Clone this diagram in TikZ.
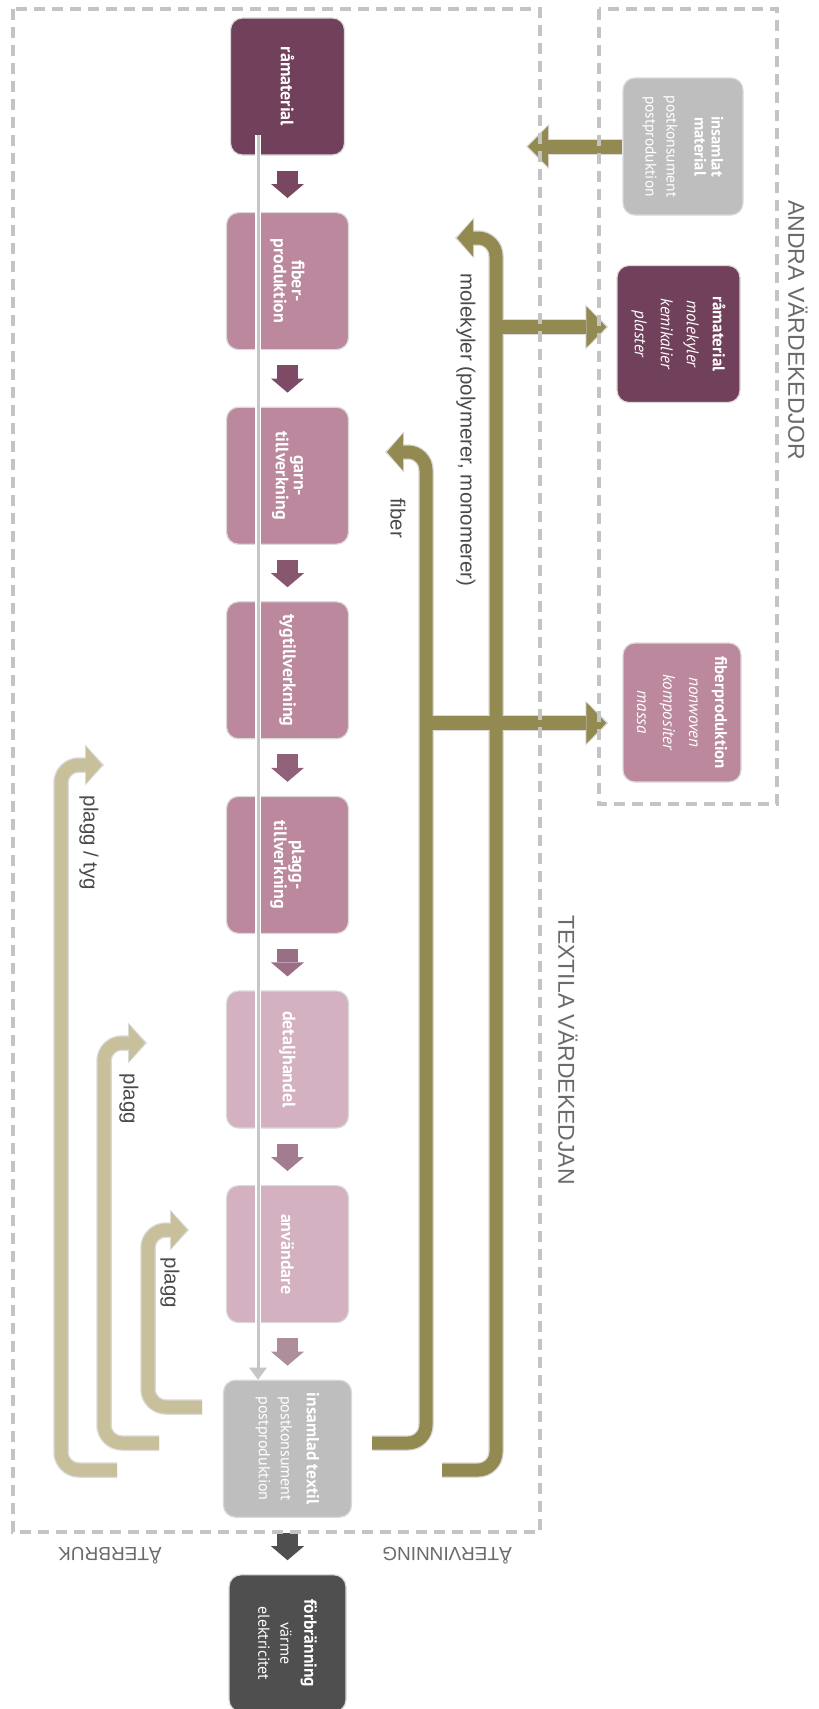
\documentclass[tikz,border=0pt]{standalone}
\usepackage{fontspec}
\setmainfont{PT Sans}
\newfontfamily\labelfont{Liberation Sans}
\usetikzlibrary{arrows.meta}

\definecolor{plumdark}{HTML}{71405A}
\definecolor{mauve}{HTML}{BB889D}
\definecolor{lightmauve}{HTML}{D3B1C0}
\definecolor{boxgrey}{HTML}{BEBEBE}
\definecolor{burngrey}{HTML}{4F4F4F}
\definecolor{boxedge}{HTML}{DADADA}
\definecolor{recycle}{HTML}{938A52}
\definecolor{reuse}{HTML}{C7C09B}
\definecolor{halo}{HTML}{DADADA}
\definecolor{framegrey}{HTML}{C4C4C4}
\definecolor{tracegrey}{HTML}{C6C6C6}
\definecolor{labelgrey}{HTML}{4A4A4A}
\definecolor{headgrey}{HTML}{6B6B6B}
\definecolor{arrowA}{HTML}{7A4762}
\definecolor{arrowB}{HTML}{7E4B66}
\definecolor{arrowC}{HTML}{87576F}
\definecolor{arrowD}{HTML}{906178}
\definecolor{arrowE}{HTML}{9A6E84}
\definecolor{arrowF}{HTML}{A47C8F}
\definecolor{arrowG}{HTML}{AE8E9A}
\definecolor{arrowH}{HTML}{4F4F4F}

% each line of a box label gets its own font switch
\newcommand\subline{\mdseries\fontsize{16}{18}\selectfont}
\newcommand\sidesub{\mdseries\fontsize{15.5}{17}\selectfont}
\newcommand\sideit{\mdseries\itshape\fontsize{17}{26}\selectfont}

\tikzset{
  stage/.style={rotate=-90, draw=boxedge, line width=1.2pt, rounded corners=12pt,
    text=white, align=center, inner sep=0pt, minimum width=137pt,
    minimum height=122pt, font=\fontsize{18}{18}\selectfont\bfseries},
  sidestage/.style={stage, font=\fontsize{17}{26}\selectfont\bfseries},
  flow/.style={draw=#1, line width=21pt, shorten <=15pt, shorten >=14pt,
    -{Triangle[length=14pt,width=33pt,line width=0pt]}},
  traceglow/.style={draw=white, line width=6pt, shorten >=10pt},
  traceline/.style={draw=tracegrey, line width=3pt,
    -{Triangle[length=12pt,width=18pt,line width=0pt]}},
  loophalo/.style={draw=halo, line width=15.5pt, rounded corners=18pt, shorten >=-2pt,
    -{Triangle[length=19pt,width=41pt,line width=0pt]}},
  loopfill/.style={draw=#1, line width=13pt, rounded corners=18pt,
    -{Triangle[length=16pt,width=37pt,line width=0pt]}},
  branchhalo/.style={draw=halo, line width=16pt,
    -{Triangle[length=23pt,width=45pt,line width=0pt]}},
  branchfill/.style={draw=recycle, line width=14pt,
    -{Triangle[length=20pt,width=41pt,line width=0pt]}},
  flowlabel/.style={rotate=-90, inner sep=0pt, text=labelgrey,
    font=\labelfont\fontsize{20.5}{22}\selectfont},
  heading/.style={inner sep=0pt, text=headgrey,
    font=\labelfont\fontsize{23}{25}\selectfont},
  chainframe/.style={draw=framegrey, line width=3.5pt, dash pattern=on 11pt off 7pt},
}

\begin{document}
\begin{tikzpicture}[x=1pt,y=-1pt]
\useasboundingbox (0,0) rectangle (819,1709);
\fill[white] (0,0) rectangle (819,1709);

% main chain
\node[stage, fill=plumdark, minimum height=114pt] (ramat) at (287.5,86.5) {råmaterial};
\node[stage, fill=mauve] (fibprod) at (287.5,281.1) {fiber-\\produktion};
\node[stage, fill=mauve] (garn) at (287.5,475.7) {garn-\\tillverkning};
\node[stage, fill=mauve] (tyg) at (287.5,670.3) {tygtillverkning};
\node[stage, fill=mauve] (plagg) at (287.5,864.9) {plagg-\\tillverkning};
\node[stage, fill=lightmauve] (detalj) at (287.5,1059.5) {detaljhandel};
\node[stage, fill=lightmauve] (anv) at (287.5,1254.1) {användare};
\node[stage, fill=boxgrey, minimum height=128pt, font=\fontsize{17.5}{18}\selectfont\bfseries] (textil) at (287.5,1448.7)
  {insamlad textil\\[8pt]\subline postkonsument\\[4pt]\subline postproduktion};
\node[stage, fill=burngrey, minimum height=117pt, font=\fontsize{17.5}{18}\selectfont\bfseries] (burn) at (287.5,1643.3)
  {förbränning\\[6pt]\subline värme\\[4pt]\subline elektricitet};

% other value chains
\node[stage, fill=boxgrey, minimum height=120pt, font=\fontsize{16.5}{17}\selectfont\bfseries]
  (insmat) at (683,146.5) {insamlat\\material\\[11pt]\sidesub postkonsument\\[4pt]\sidesub postproduktion};
\node[sidestage, fill=plumdark, minimum height=123pt] (rawalt) at (678.5,334)
  {råmaterial\\\sideit molekyler\\\sideit kemikalier\\\sideit plaster};
\node[sidestage, fill=mauve, minimum height=118pt, minimum width=139pt] (fibalt) at (682,712.5)
  {fiberproduktion\\\sideit nonwoven\\\sideit kompositer\\\sideit massa};

% steps of the chain
\draw[flow=arrowA] (ramat) -- (fibprod);
\draw[flow=arrowB] (fibprod) -- (garn);
\draw[flow=arrowC] (garn) -- (tyg);
\draw[flow=arrowD] (tyg) -- (plagg);
\draw[flow=arrowE] (plagg) -- (detalj);
\draw[flow=arrowF] (detalj) -- (anv);
\draw[flow=arrowG] (anv) -- (textil);
\draw[flow=arrowH] (textil) -- (burn);

% material trace through the chain
\coordinate (trace) at (258,135);
\draw[traceglow] (trace) -- (trace |- textil.west);
\draw[traceline] (trace) -- (trace |- textil.west);

% recycling and reuse loops
\coordinate (fibA) at (372,1443);
\coordinate (fibB) at (426,1443);
\coordinate (fibC) at (426,452);
\coordinate (fibtip) at (387,452);
\coordinate (fibbr) at (426,723);
\coordinate (molA) at (442,1470);
\coordinate (molB) at (496,1470);
\coordinate (molC) at (496,238);
\coordinate (moltip) at (457,238);
\coordinate (molbr) at (496,327);
\coordinate (intake) at (528,146.5);
\coordinate (reA1) at (117,1470);
\coordinate (reA2) at (61,1470);
\coordinate (reA3) at (61,765);
\coordinate (reAtip) at (102,765);
\coordinate (reB1) at (159,1443);
\coordinate (reB2) at (104,1443);
\coordinate (reB3) at (104,1043);
\coordinate (reBtip) at (145,1043);
\coordinate (reC1) at (202,1407);
\coordinate (reC2) at (148,1407);
\coordinate (reC3) at (148,1230);
\coordinate (reCtip) at (187,1230);

\draw[loophalo] (fibA) -- (fibB) -- (fibC) -- (fibtip);
\draw[loophalo] (molA) -- (molB) -- (molC) -- (moltip);
\draw[branchhalo, shorten >=14pt] (fibbr) -- (fibbr -| fibalt.south);
\draw[branchhalo, shorten >=8pt] (molbr) -- (molbr -| rawalt.south);
\draw[branchhalo, shorten >=-2pt] (insmat.south) -- (intake);
\draw[loophalo] (reA1) -- (reA2) -- (reA3) -- (reAtip);
\draw[loophalo] (reB1) -- (reB2) -- (reB3) -- (reBtip);
\draw[loophalo] (reC1) -- (reC2) -- (reC3) -- (reCtip);

\draw[loopfill=recycle] (fibA) -- (fibB) -- (fibC) -- (fibtip);
\draw[loopfill=recycle] (molA) -- (molB) -- (molC) -- (moltip);
\draw[branchfill, shorten >=16pt] (fibbr) -- (fibbr -| fibalt.south);
\draw[branchfill, shorten >=10pt] (molbr) -- (molbr -| rawalt.south);
\draw[branchfill] (insmat.south) -- (intake);
\draw[loopfill=reuse] (reA1) -- (reA2) -- (reA3) -- (reAtip);
\draw[loopfill=reuse] (reB1) -- (reB2) -- (reB3) -- (reBtip);
\draw[loopfill=reuse] (reC1) -- (reC2) -- (reC3) -- (reCtip);

% loop labels
\node[flowlabel] (lblmol) at (466,430) {molekyler (polymerer, monomerer)};
\node[flowlabel] (lblfib) at (398,518) {fiber};
\node[flowlabel] (lblpt) at (89,843) {plagg / tyg};
\node[flowlabel] (lblpa) at (129,1099) {plagg};
\node[flowlabel] (lblpb) at (170,1283) {plagg};

% frames
\draw[chainframe] (13,9) rectangle (540,1532);
\draw[chainframe] (599,9) rectangle (777,804);

% headings
\node[heading, rotate=-90] (textila) at (568,1050) {TEXTILA VÄRDEKEDJAN};
\node[heading, rotate=-90] (andra) at (798,330) {ANDRA VÄRDEKEDJOR};
\node[heading, rotate=180, font=\labelfont\fontsize{19}{21}\selectfont] (atervinning) at (447,1556) {ÅTERVINNING};
\node[heading, rotate=180, font=\labelfont\fontsize{19}{21}\selectfont] (aterbruk) at (110,1556) {ÅTERBRUK};
\end{tikzpicture}
\end{document}
